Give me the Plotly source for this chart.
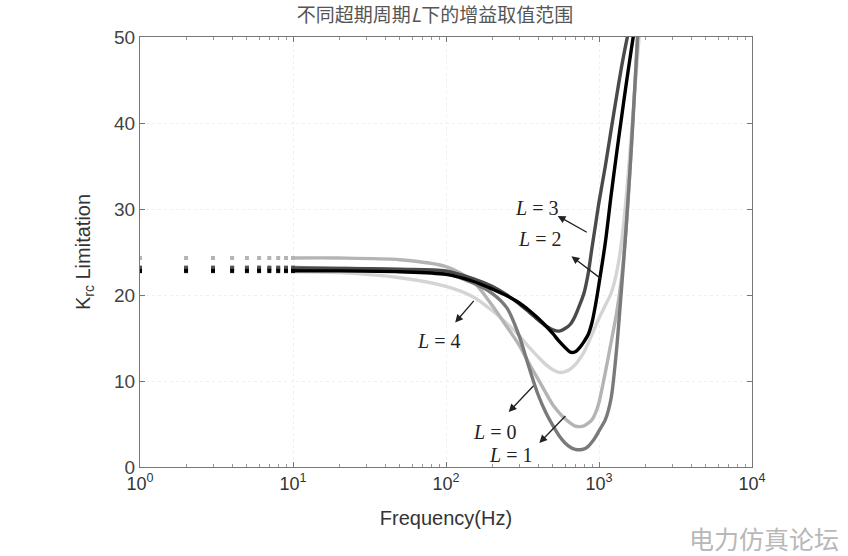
import plotly.graph_objects as go

# ---------------- data ----------------
freq = [1, 2, 3, 4, 5, 6, 7, 8, 9, 10, 20, 50, 100, 150, 200, 250, 300, 350, 400, 450,
        500, 550, 600, 650, 700, 750, 800, 850, 900, 950, 1000, 1100, 1200, 1300, 1400,
        1500, 1600, 1700, 1800, 1900, 2000]

k_L0 = [23.2]*10 + [23.1, 22.9, 22.5, 21.4, 20.2, 18.5, 15.3, 11.5, 8.4, 6.3,
                    4.8, 3.6, 2.8, 2.3, 2.05, 2.0, 2.1, 2.4, 2.9, 3.5,
                    4.2, 5.5, 8.0, 13.5, 20.5, 27.5, 35.0, 43.0, 51.0, 58.0, 64.0]
k_L1 = [24.3]*10 + [24.3, 24.1, 23.3, 21.6, 18.8, 16.3, 14.2, 12.0, 10.2, 8.6,
                    7.2, 6.3, 5.6, 5.1, 4.75, 4.7, 4.8, 5.1, 5.5, 6.3,
                    7.5, 11.0, 14.5, 17.8, 21.8, 27.5, 35.0, 43.0, 51.0, 58.0, 64.0]
k_L2 = [22.8]*10 + [22.8, 22.7, 22.4, 21.6, 20.7, 19.9, 19.1, 18.2, 17.3, 16.4,
                    15.5, 14.6, 13.9, 13.35, 13.4, 13.9, 14.6, 15.4, 16.8, 18.9,
                    21.3, 26.1, 31.6, 36.3, 40.5, 44.3, 47.7, 50.8, 53.5, 56.0, 58.5]
k_L3 = [23.1]*10 + [23.1, 23.0, 22.8, 21.9, 21.0, 20.0, 19.0, 18.0, 17.1, 16.4,
                    15.95, 15.8, 16.1, 16.6, 17.6, 18.9, 20.3, 22.5, 25.5, 28.2,
                    30.8, 35.0, 39.2, 43.0, 46.4, 49.2, 51.5, 53.5, 55.0, 56.5, 58.0]
k_L4 = [22.7]*10 + [22.6, 22.0, 21.0, 19.8, 18.2, 16.7, 15.3, 13.9, 12.8, 11.9,
                    11.3, 11.0, 11.1, 11.4, 11.9, 12.6, 13.4, 14.4, 15.4, 16.4,
                    17.3, 18.8, 20.2, 22.5, 26.0, 31.0, 37.0, 43.0, 48.5, 53.5, 58.0]

series_names = ["L = 4", "L = 1", "L = 0", "L = 3", "L = 2"]
series_vals = [k_L4, k_L1, k_L0, k_L3, k_L2]
series_colors = ["#d4d4d4", "#b4b4b4", "#7a7a7a", "#4a4a4a", "#000000"]

x_tickvals = [1, 10, 100, 1000, 10000]
x_ticktext = ["10<sup>0</sup>", "10<sup>1</sup>", "10<sup>2</sup>", "10<sup>3</sup>", "10<sup>4</sup>"]
x_minor_ticks = [m * d for d in (1, 10, 100, 1000) for m in range(2, 10)]
y_tickvals = [0, 10, 20, 30, 40, 50]

# label positions (label text, arrow head, arrow tail) in (log10 f, K) coordinates
labels = [
    ("<i>L</i> = 3", (2.59, 30.1), (2.73, 29.2), (2.93, 27.2)),
    ("<i>L</i> = 2", (2.61, 26.5), (2.82, 24.5), (3.02, 21.8)),
    ("<i>L</i> = 4", (1.95, 14.6), (2.06, 16.8), (2.19, 19.5)),
    ("<i>L</i> = 0", (2.32, 4.1), (2.41, 6.4), (2.58, 9.6)),
    ("<i>L</i> = 1", (2.42, 1.4), (2.61, 2.8), (2.79, 6.1)),
]

# ---------------- figure ----------------
fig = go.Figure()
n_dots = 10
for name, vals, col in zip(series_names, series_vals, series_colors):
    fig.add_trace(go.Scatter(x=freq[:n_dots], y=vals[:n_dots], mode="markers",
                             marker=dict(color=col, size=4, symbol="square"),
                             showlegend=False, hoverinfo="skip"))
    fig.add_trace(go.Scatter(x=freq[n_dots - 1:], y=vals[n_dots - 1:], mode="lines",
                             line=dict(color=col, width=3.4, shape="spline", smoothing=0.8),
                             name=name, showlegend=False))

annos = []
for txt, tpos, head, tail in labels:
    annos.append(dict(x=tpos[0], y=tpos[1], xref="x", yref="y", text=txt, showarrow=False,
                      font=dict(family="Liberation Serif", size=20, color="#222")))
    annos.append(dict(x=head[0], y=head[1], ax=tail[0], ay=tail[1], xref="x", yref="y",
                      axref="x", ayref="y", text="", showarrow=True, arrowhead=2,
                      arrowsize=1.2, arrowwidth=1.3, arrowcolor="#222"))

annos.append(dict(x=1.02, y=-0.165, xref="paper", yref="paper", text="电力仿真论坛",
                  xanchor="center", yanchor="middle",
                  showarrow=False, font=dict(family="Noto Sans CJK SC", size=25, color="#b8b8b8")))

fig.update_layout(
    width=848, height=556,
    margin=dict(l=140, r=96, t=37, b=89),
    paper_bgcolor="white", plot_bgcolor="white",
    title=dict(text="不同超期周期<i>L</i>下的增益取值范围", x=0.482, xref="paper", xanchor="center",
               y=0.973, yanchor="middle", yref="container",
               font=dict(family="Noto Sans CJK SC", size=19, color="#555")),
    annotations=annos,
    font=dict(family="Liberation Sans", color="#333"),
)
fig.update_xaxes(type="log", range=[0, 4], tickvals=x_tickvals, ticktext=x_ticktext,
                 ticks="inside", ticklen=5, tickcolor="#777",
                 minor=dict(tickvals=x_minor_ticks, ticks="inside", ticklen=3,
                            tickcolor="#999", showgrid=False),
                 showline=True, linecolor="#777", linewidth=1, mirror="ticks",
                 showgrid=True, gridcolor="#f0f0f0", griddash="dot",
                 tickfont=dict(size=18, color="#333"),
                 title=dict(text="Frequency(Hz)", font=dict(size=20, color="#333"), standoff=18),
                 zeroline=False)
fig.update_yaxes(range=[0, 50], tickvals=y_tickvals, ticks="inside", ticklen=5, tickcolor="#777",
                 showline=True, linecolor="#777", linewidth=1, mirror="ticks",
                 showgrid=True, gridcolor="#f0f0f0", griddash="dot",
                 tickfont=dict(size=19, color="#444"),
                 title=dict(text="K<sub>rc</sub> Limitation", font=dict(size=20, color="#333"),
                            standoff=18),
                 zeroline=False)

fig.write_html("out.html", config={"displayModeBar": False},
               post_script="document.body.style.margin='0';")
